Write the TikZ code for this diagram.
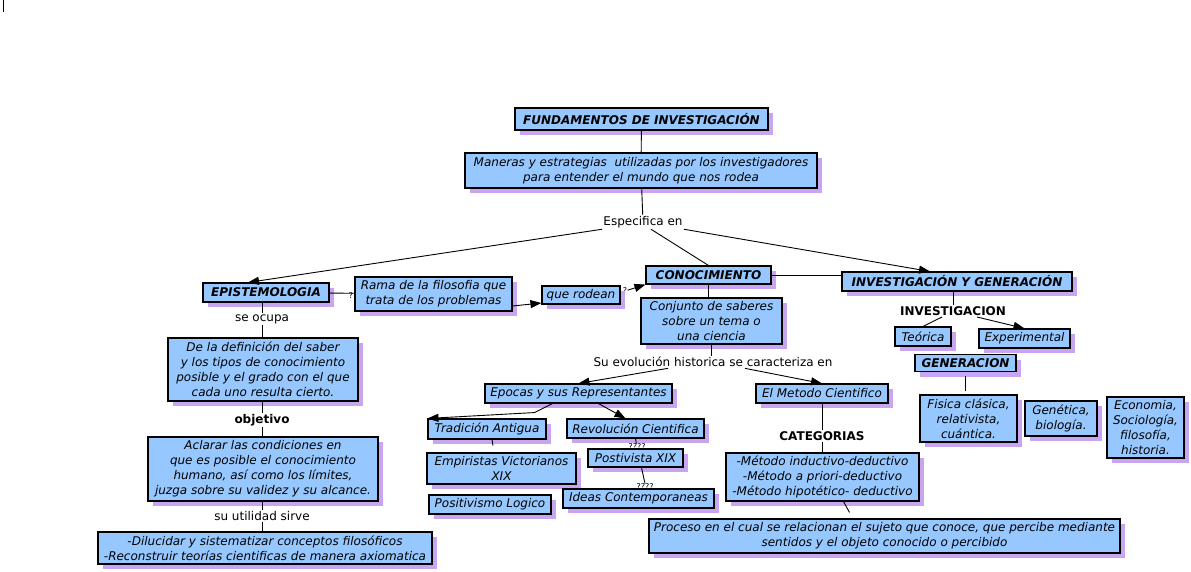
\documentclass[tikz,border=0pt]{standalone}
\usepackage{fontspec}
\setmainfont{DejaVu Sans}
\usetikzlibrary{arrows.meta,shadows}
\definecolor{azulcaja}{RGB}{150,200,255}
\definecolor{lilasombra}{RGB}{200,165,240}
\begin{document}
\begin{tikzpicture}[x=1pt,y=-1pt,line width=0.9pt,
    caja/.style={draw,line width=1.1pt,fill=azulcaja,align=center,inner sep=1pt,
        font=\fontsize{12}{15}\selectfont\itshape,
        general shadow={fill=lilasombra,shadow xshift=5pt,shadow yshift=-5pt}},
    titulo/.style={caja,font=\fontsize{12}{15}\selectfont\bfseries\itshape},
    enlace/.style={inner sep=1pt,font=\fontsize{12}{15}\selectfont},
    enlacebf/.style={enlace,font=\fontsize{12}{15}\selectfont\bfseries},
    nota/.style={inner sep=0pt,font=\fontsize{8}{8}\selectfont},
    tam/.style 2 args={minimum width=#1pt,minimum height=#2pt},
    flecha/.style={-{Triangle[length=11pt,width=8pt]}}]
  \useasboundingbox (0,0) rectangle (1191,571);
  \draw (3,0) -- (3,12);
  % restos de enlaces
  \node[nota] (q1) at (351,296) {?};
  \node[nota] (q2) at (625,291) {?};
  \node[nota] (q3) at (637,447) {????};
  \node[nota] (q4) at (645,487) {????};
  % conceptos
  \node[titulo,tam={253}{22}] (fund) at (641.5,119) {FUNDAMENTOS DE INVESTIGACIÓN};
  \node[caja,tam={352}{35}] (maneras) at (641,170.5) {Maneras y estrategias\ \ utilizadas por los investigadores\\para entender el mundo que nos rodea};
  \node[enlace] (espec) at (643,222) {Especifica en};
  \node[titulo,tam={126}{19}] (epis) at (266,292.5) {EPISTEMOLOGIA};
  \node[caja,tam={157}{34}] (rama) at (433.5,294) {Rama de la filosofia que\\trata de los problemas};
  \node[caja,tam={78}{18}] (rodean) at (581,295) {que rodean};
  \node[titulo,tam={125}{18}] (conoc) at (708.5,275) {CONOCIMIENTO};
  \node[caja,tam={141}{46}] (conj) at (711.5,321) {Conjunto de saberes\\sobre un tema o\\una ciencia};
  \node[titulo,tam={230}{19}] (invgen) at (957,281.5) {INVESTIGACIÓN Y GENERACIÓN};
  \node[enlacebf] (invest) at (953,311) {INVESTIGACION};
  \node[caja,tam={56}{19}] (teorica) at (923,336.5) {Teórica};
  \node[caja,tam={91}{19}] (experim) at (1024.5,338.5) {Experimental};
  \node[titulo,tam={101}{17}] (gener) at (965.5,363) {GENERACION};
  \node[caja,tam={97}{47}] (fisica) at (968.5,418.5) {Fisica clásica,\\relativista,\\cuántica.};
  \node[caja,tam={72}{35}] (genet) at (1061,418.5) {Genética,\\biología.};
  \node[caja,tam={77}{61}] (econ) at (1145.5,427.5) {Economia,\\Sociología,\\filosofía,\\historia.};
  \node[enlace] (seocupa) at (262,319) {se ocupa};
  \node[caja,tam={190}{63}] (defin) at (263,369.5) {De la definición del saber\\y los tipos de conocimiento\\posible y el grado con el que\\cada uno resulta cierto.};
  \node[enlacebf] (objetivo) at (262,420) {objetivo};
  \node[caja,tam={230}{64}] (aclarar) at (263,469) {Aclarar las condiciones en\\que es posible el conocimiento\\humano, así como los límites,\\juzga sobre su validez y su alcance.};
  \node[enlace] (utilidad) at (262,516) {su utilidad sirve};
  \node[caja,tam={334}{32}] (dilucidar) at (265,548) {-Dilucidar y sistematizar conceptos filosóficos\\-Reconstruir teorías cientificas de manera axiomatica};
  \node[enlace] (evol) at (713,362) {Su evolución historica se caracteriza en};
  \node[caja,tam={187}{19}] (epocas) at (578.5,393.5) {Epocas y sus Representantes};
  \node[caja,tam={132}{19}] (metodo) at (822,393.5) {El Metodo Cientifico};
  \node[caja,tam={118}{20}] (tradicion) at (487,429) {Tradición Antigua};
  \node[caja,tam={137}{19}] (revol) at (635.5,428.5) {Revolución Cientifica};
  \node[caja,tam={149}{31}] (empir) at (501.5,468.5) {Empiristas Victorianos\\XIX};
  \node[caja,tam={95}{18}] (postiv) at (635.5,458) {Postivista XIX};
  \node[caja,tam={122}{19}] (poslog) at (490,504.5) {Positivismo Logico};
  \node[caja,tam={151}{19}] (ideas) at (638.5,498.5) {Ideas Contemporaneas};
  \node[enlacebf] (categ) at (822,436) {CATEGORIAS};
  \node[caja,tam={193}{48}] (metodos) at (822.5,477) {-Método inductivo-deductivo\\-Método a priori-deductivo\\-Método hipotético- deductivo};
  \node[caja,tam={471}{34}] (proceso) at (884.5,536) {Proceso en el cual se relacionan el sujeto que conoce, que percibe mediante\\sentidos y el objeto conocido o percibido};
  % conexiones
  \draw (fund) -- (maneras);
  \draw (maneras) -- (espec);
  \draw[flecha] (espec.south west) -- ([xshift=-18pt]epis.north);
  \draw ([xshift=8pt]espec.south) -- (conoc.north);
  \draw[flecha] (espec.south east) -- ([xshift=-27pt]invgen.north);
  \draw (epis) -- (rama);
  \draw[flecha] ([yshift=-12pt]rama.east) -- ([yshift=-8pt]rodean.west);
  \draw[flecha] (q2) -- (conoc.south west);
  \draw (conoc.east) -- (conoc.east -| invgen.west);
  \draw (conoc.south) -- (conoc.south |- conj.north);
  \draw (conj.south) -- (conj.south |- evol.north);
  \draw[flecha] ([xshift=-45pt]evol.south) -- (epocas.north);
  \draw[flecha] ([xshift=32pt]evol.south) -- (metodo.north);
  \draw[flecha] ([xshift=-26pt]epocas.south) -- ++(-18,9) -- (tradicion.north west);
  \draw[flecha] ([xshift=20pt]epocas.south) -- ([xshift=-10pt]revol.north);
  \draw ([xshift=5pt]tradicion.south) -- ++(1,6);
  \draw (revol.south) -- (q3);
  \draw ([xshift=6pt]postiv.south) -- (q4.north);
  \draw (metodo.south) -- (categ.north);
  \draw (categ.south) -- (categ.south |- metodos.north);
  \draw ([xshift=21pt]metodos.south) -- ([xshift=-35pt,yshift=6pt]proceso.north);
  \draw (invest.north) -- (invest.north |- invgen.south);
  \draw ([xshift=-11pt]invest.south) -- (teorica.north);
  \draw[flecha] ([xshift=24pt]invest.south) -- (experim.north);
  \draw[shorten <=4pt,shorten >=3pt] (gener.south) -- (gener.south |- fisica.north);
  \draw (seocupa.north) -- (seocupa.north |- epis.south);
  \draw (seocupa.south) -- (seocupa.south |- defin.north);
  \draw (objetivo.north) -- (objetivo.north |- defin.south);
  \draw (objetivo.south) -- (objetivo.south |- aclarar.north);
  \draw (utilidad.north) -- (utilidad.north |- aclarar.south);
  \draw (utilidad.south) -- (utilidad.south |- dilucidar.north);
\end{tikzpicture}
\end{document}
